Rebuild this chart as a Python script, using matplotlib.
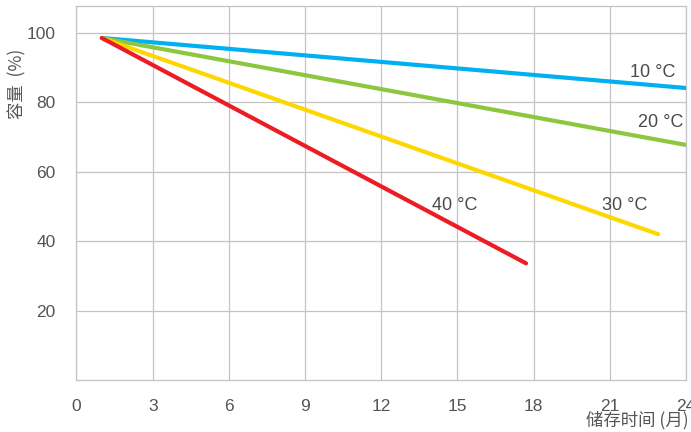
import matplotlib
matplotlib.use("Agg")
import matplotlib.pyplot as plt

months_start = [1.0, 1.0, 1.0, 1.0]
temps = ["10 °C", "20 °C", "30 °C", "40 °C"]
start_cap = [98.5, 98.5, 98.5, 98.5]
end_month = [24.0, 24.0, 22.9, 17.7]
end_cap = [84.1, 67.7, 42.0, 33.6]
colors = ["#00B0F0", "#8DC63F", "#FFD700", "#ED1C24"]
label_x = [22.7, 23.0, 21.6, 14.9]
label_y = [88.5, 74.1, 50.2, 50.2]
xticks = [0, 3, 6, 9, 12, 15, 18, 21, 24]
yticks = [20, 40, 60, 80, 100]

plt.rcParams['font.family'] = ['Liberation Sans', 'Noto Sans CJK SC', 'DejaVu Sans']

fig = plt.figure(figsize=(6.91, 4.32), dpi=100)
ax = fig.add_axes([0.1107, 0.1204, 0.8821, 0.8656])

for xs, ys, xe, ye, c in zip(months_start, start_cap, end_month, end_cap, colors):
    ax.plot([xs, xe], [ys, ye], color=c, lw=3.0, solid_capstyle='round', zorder=3)

for t, lx, ly in zip(temps, label_x, label_y):
    ax.text(lx, ly, t, ha='center', va='center', fontsize=13, color='#4a4a4a', zorder=4)

ax.set_xlim(0, 24)
ax.set_ylim(0, 107.7)
ax.set_xticks(xticks)
ax.set_yticks(yticks)
ax.grid(True, color='#c4c4c4', lw=0.9)
ax.set_axisbelow(True)
for s in ax.spines.values():
    s.set_color('#c4c4c4')
    s.set_linewidth(0.9)
ax.tick_params(length=0, labelsize=12.5, labelcolor='#555555')
ax.tick_params(axis='x', pad=14)
ax.tick_params(axis='y', pad=15)

fig.text(637/691, 1 - 420/432, "储存时间 (月)", ha='center', va='center', fontsize=12.5,
         color='#555555', family=['Noto Sans CJK SC', 'DejaVu Sans'])
fig.text(17/691, 1 - 84/432, "容量  (%)", ha='center', va='center', rotation=90, fontsize=12.5,
         color='#555555', family=['Noto Sans CJK SC', 'DejaVu Sans'])

fig.savefig("out.png", dpi=100)
